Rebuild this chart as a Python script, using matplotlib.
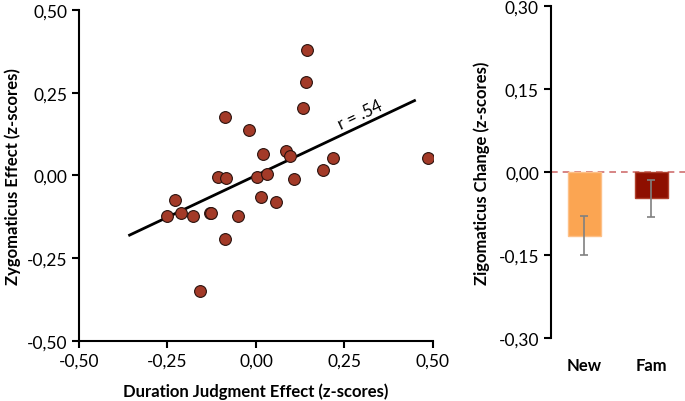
import matplotlib
matplotlib.use("Agg")
import matplotlib.pyplot as plt
import numpy as np
from matplotlib.ticker import FuncFormatter

plt.rcParams['font.family'] = ['Lato', 'DejaVu Sans']

# Scatter data
duration_effect = [-0.252, -0.230, -0.211, -0.177, -0.130, -0.128, -0.158, -0.107, -0.086,
                   -0.087, -0.087, -0.050, -0.019, 0.004, 0.013, 0.019, 0.031, 0.057,
                   0.086, 0.096, 0.108, 0.133, 0.141, 0.144, 0.189, 0.217, 0.487]
zygomaticus_effect = [-0.121, -0.073, -0.113, -0.121, -0.113, -0.114, -0.348, -0.004, -0.008,
                      0.178, -0.193, -0.121, 0.136, -0.004, -0.066, 0.065, 0.005, -0.079,
                      0.075, 0.058, -0.012, 0.205, 0.282, 0.379, 0.018, 0.053, 0.054]
trend_x = [-0.357, 0.448]
trend_y = [-0.180, 0.226]
r_label = "r = .54"

# Bar data
conditions = ["New", "Fam"]
change_values = [-0.115, -0.048]
change_errors = [0.036, 0.033]
bar_colors = ["#FBA552", "#8E0F00"]
bar_edges = ["#FDC088", "#B0402C"]

fig = plt.figure(figsize=(6.85, 4.02), dpi=100)
comma = FuncFormatter(lambda v, p: ("%.2f" % v).replace(".", ",").replace("-0,00", "0,00"))

# Left scatter panel
ax = fig.add_axes([0.1153, 0.149, 0.5167, 0.824])
ax.scatter(duration_effect, zygomaticus_effect, s=72, color="#A33A28",
           edgecolors="#2a120e", linewidths=0.8, zorder=3)
ax.plot(trend_x, trend_y, color="black", lw=2, zorder=2)
ax.text(0.295, 0.186, r_label, rotation=25.4, ha="center", va="center", fontsize=12,
        rotation_mode="anchor")
ax.set_xlim(-0.5, 0.5)
ax.set_ylim(-0.5, 0.5)
ax.set_xticks([-0.5, -0.25, 0, 0.25, 0.5])
ax.set_yticks([-0.5, -0.25, 0, 0.25, 0.5])
ax.xaxis.set_major_formatter(comma)
ax.yaxis.set_major_formatter(comma)
for s in ["top", "right"]:
    ax.spines[s].set_visible(False)
for s in ["left", "bottom"]:
    ax.spines[s].set_linewidth(1.5)
ax.tick_params(direction="out", length=5, width=1.5, labelsize=12.5)
ax.set_xlabel("Duration Judgment Effect (z-scores)", fontsize=12, fontweight="bold", labelpad=10)
ax.set_ylabel("Zygomaticus Effect (z-scores)", fontsize=12, fontweight="bold", labelpad=4)

# Right bar panel
ax2 = fig.add_axes([0.804, 0.157, 0.196, 0.826])
x = np.arange(len(conditions))
ax2.bar(x, change_values, width=0.5, color=bar_colors, edgecolor=bar_edges, linewidth=1, zorder=2)
ax2.errorbar(x, change_values, yerr=change_errors, fmt="none", ecolor="#808080",
             elinewidth=1.2, capsize=3, capthick=1.2, zorder=3)
ax2.axhline(0, color="#D07070", lw=1.2, ls=(0, (4, 3)), zorder=1)
ax2.set_xlim(-0.5, 1.5)
ax2.set_ylim(-0.3, 0.3)
ax2.set_yticks([-0.3, -0.15, 0, 0.15, 0.3])
ax2.yaxis.set_major_formatter(comma)
ax2.set_xticks(x)
ax2.set_xticklabels(conditions, fontweight="bold", fontsize=12)
for s in ["top", "right", "bottom"]:
    ax2.spines[s].set_visible(False)
ax2.spines["left"].set_linewidth(1.5)
ax2.tick_params(axis="y", direction="out", length=5, width=1.5, labelsize=12.5)
ax2.tick_params(axis="x", length=0, pad=14)
ax2.set_ylabel("Zigomaticus Change (z-scores)", fontsize=12, fontweight="bold", labelpad=6)

fig.savefig("out.png", dpi=100)
